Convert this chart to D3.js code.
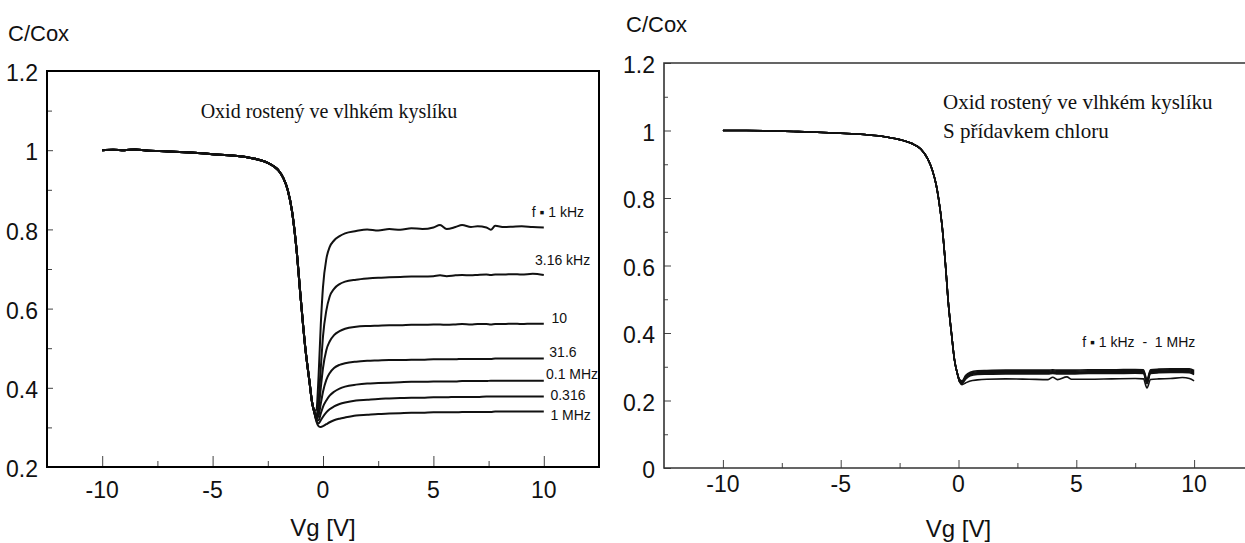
<!DOCTYPE html>
<html>
<head>
<meta charset="utf-8">
<script src="https://cdn.jsdelivr.net/npm/d3@7"></script>
<style>
  body { margin: 0; background: #fff; }
  svg { display: block; }
  .sans { font-family: "Liberation Sans", Arial, sans-serif; fill: #111; }
  .serif { font-family: "Liberation Serif", "Times New Roman", serif; fill: #111; }
</style>
</head>
<body>
<svg id="chart" width="1245" height="543"></svg>
<script>
// ---- left panel: wet oxide ----
const leftLabels = ["f \u25AA 1 kHz", "3.16 kHz", "10", "31.6", "0.1 MHz", "0.316", "1 MHz"];
const leftLabelVg = [9.45, 9.6, 10.35, 10.25, 10.1, 10.3, 10.3];
const leftLabelC = [0.844, 0.723, 0.576, 0.49, 0.435, 0.382, 0.331];

// shared descending branch
const leftDropVg = [-10, -9.5, -9, -8.5, -8, -7, -6, -5, -4, -3.5, -3, -2.5, -2.2, -2, -1.8, -1.6, -1.4, -1.2, -1.0, -0.8, -0.6];
const leftDropC  = [1.0, 1.001, 1.0, 1.002, 0.999, 0.997, 0.994, 0.99, 0.986, 0.983, 0.977, 0.968, 0.958, 0.948, 0.93, 0.90, 0.845, 0.75, 0.62, 0.50, 0.41];

// branches after the minimum, one row per frequency
const leftRiseVg = [-0.5, -0.4, -0.3, -0.2, -0.1, 0, 0.15, 0.3, 0.5, 0.75, 1, 1.5, 2, 2.5, 3, 3.5, 4, 4.5, 5, 5.3, 5.6, 6, 6.3, 6.7, 7, 7.4, 7.6, 7.8, 8.2, 8.6, 9, 9.5, 10];
const leftRiseC = [
  [0.365, 0.342, 0.345, 0.43, 0.56, 0.655, 0.725, 0.755, 0.772, 0.783, 0.79, 0.796, 0.80, 0.797, 0.801, 0.799, 0.803, 0.801, 0.805, 0.811, 0.801, 0.806, 0.811, 0.806, 0.808, 0.805, 0.799, 0.809, 0.806, 0.807, 0.808, 0.806, 0.805],
  [0.365, 0.34, 0.33, 0.37, 0.45, 0.53, 0.595, 0.63, 0.65, 0.662, 0.668, 0.673, 0.676, 0.678, 0.679, 0.68, 0.681, 0.681, 0.682, 0.684, 0.682, 0.684, 0.685, 0.684, 0.685, 0.686, 0.685, 0.686, 0.686, 0.687, 0.686, 0.688, 0.685],
  [0.365, 0.34, 0.325, 0.345, 0.40, 0.45, 0.495, 0.517, 0.533, 0.543, 0.549, 0.554, 0.556, 0.557, 0.558, 0.558, 0.559, 0.559, 0.56, 0.56, 0.559, 0.56, 0.561, 0.56, 0.561, 0.561, 0.56, 0.561, 0.561, 0.562, 0.561, 0.562, 0.562],
  [0.365, 0.34, 0.322, 0.33, 0.36, 0.39, 0.42, 0.437, 0.45, 0.458, 0.462, 0.466, 0.468, 0.469, 0.47, 0.47, 0.471, 0.471, 0.472, 0.472, 0.472, 0.472, 0.473, 0.473, 0.473, 0.473, 0.473, 0.474, 0.474, 0.474, 0.474, 0.474, 0.474],
  [0.365, 0.34, 0.32, 0.318, 0.335, 0.352, 0.368, 0.38, 0.39, 0.398, 0.403, 0.408, 0.411, 0.412, 0.413, 0.414, 0.415, 0.415, 0.416, 0.416, 0.416, 0.416, 0.417, 0.417, 0.417, 0.417, 0.418, 0.418, 0.418, 0.418, 0.418, 0.418, 0.418],
  [0.365, 0.34, 0.318, 0.31, 0.318, 0.327, 0.338, 0.346, 0.353, 0.359, 0.363, 0.368, 0.37, 0.372, 0.373, 0.374, 0.375, 0.375, 0.376, 0.376, 0.376, 0.377, 0.377, 0.377, 0.377, 0.378, 0.378, 0.378, 0.378, 0.378, 0.378, 0.378, 0.378],
  [0.365, 0.34, 0.315, 0.303, 0.301, 0.303, 0.308, 0.313, 0.318, 0.322, 0.325, 0.33, 0.332, 0.334, 0.335, 0.336, 0.337, 0.337, 0.338, 0.338, 0.338, 0.338, 0.339, 0.339, 0.339, 0.339, 0.339, 0.34, 0.34, 0.34, 0.34, 0.34, 0.34]
];

// ---- right panel: wet oxide with chlorine ----
const rightDropVg = [-10, -9, -8, -7, -6, -5, -4, -3, -2.5, -2, -1.6, -1.3, -1.1, -0.95, -0.85, -0.7, -0.55, -0.42, -0.3, -0.17, -0.05];
const rightDropC  = [1.0, 1.0, 0.999, 0.997, 0.995, 0.992, 0.988, 0.98, 0.973, 0.962, 0.945, 0.915, 0.88, 0.84, 0.80, 0.72, 0.60, 0.48, 0.40, 0.32, 0.28];

const rightRiseVg = [0.05, 0.15, 0.3, 0.5, 0.8, 1.2, 2, 3, 3.8, 4.0, 4.2, 4.6, 4.8, 5.5, 6.5, 7.5, 7.85, 8.0, 8.15, 8.5, 9, 9.5, 9.8, 10];
const rightRiseC = [
  [0.262, 0.258, 0.274, 0.284, 0.288, 0.289, 0.29, 0.29, 0.29, 0.291, 0.29, 0.29, 0.29, 0.291, 0.291, 0.292, 0.291, 0.262, 0.291, 0.293, 0.294, 0.294, 0.294, 0.289],
  [0.26, 0.256, 0.271, 0.281, 0.285, 0.286, 0.287, 0.287, 0.287, 0.288, 0.287, 0.287, 0.287, 0.288, 0.288, 0.289, 0.288, 0.258, 0.288, 0.29, 0.291, 0.291, 0.291, 0.286],
  [0.258, 0.254, 0.268, 0.278, 0.282, 0.283, 0.284, 0.284, 0.284, 0.285, 0.284, 0.284, 0.284, 0.285, 0.285, 0.286, 0.285, 0.255, 0.285, 0.287, 0.288, 0.288, 0.288, 0.283],
  [0.256, 0.252, 0.266, 0.276, 0.28, 0.281, 0.282, 0.282, 0.282, 0.283, 0.282, 0.282, 0.282, 0.283, 0.283, 0.284, 0.283, 0.252, 0.283, 0.285, 0.286, 0.286, 0.285, 0.28],
  [0.255, 0.25, 0.263, 0.273, 0.277, 0.278, 0.279, 0.279, 0.279, 0.28, 0.279, 0.279, 0.279, 0.28, 0.28, 0.281, 0.28, 0.25, 0.28, 0.282, 0.283, 0.283, 0.282, 0.277],
  [0.255, 0.247, 0.252, 0.258, 0.261, 0.263, 0.264, 0.263, 0.262, 0.269, 0.262, 0.27, 0.263, 0.263, 0.264, 0.265, 0.264, 0.237, 0.262, 0.264, 0.265, 0.268, 0.265, 0.258]
];
const rightLabel = "f \u25AA 1 kHz  -  1 MHz";
const rightLabelVg = 5.25, rightLabelC = 0.373;

const xTicksMajor = [-10, -5, 0, 5, 10];
const xTicksMinor = [-7.5, -2.5, 2.5, 7.5];

function getConfigLeft() {
  return {
    left: 47, right: 599, top: 71, bottom: 467,
    xDomain: [-12.5, 12.5], yDomain: [0.2, 1.2],
    yMajor: [0.2, 0.4, 0.6, 0.8, 1, 1.2],
    yMinor: [0.3, 0.5, 0.7, 0.9, 1.1],
    frameWidth: 2, frameColor: "#000", lineWidth: 2,
    xMajorLen: 11, xMinorLen: 6, yMajorLen: 6, yMinorLen: 5,
    yLabel: { x: 8, y: 41 }, xTickY: 498, xTitleY: 536,
    showRight: true
  };
}

function getConfigRight() {
  return {
    left: 664, right: 1253, top: 63, bottom: 468,
    xDomain: [-12.5, 12.5], yDomain: [0, 1.2],
    yMajor: [0, 0.2, 0.4, 0.6, 0.8, 1, 1.2],
    yMinor: [0.1, 0.3, 0.5, 0.7, 0.9, 1.1],
    frameWidth: 1.6, frameColor: "#333", lineWidth: 1.6,
    xMajorLen: 8, xMinorLen: 5, yMajorLen: 7, yMinorLen: 4,
    yLabel: { x: 626, y: 32 }, xTickY: 492, xTitleY: 537,
    showRight: false
  };
}

function drawFrame(svg, cfg) {
  let x = d3.scaleLinear().domain(cfg.xDomain).range([cfg.left, cfg.right]);
  let y = d3.scaleLinear().domain(cfg.yDomain).range([cfg.bottom, cfg.top]);
  let g = svg.append("g");

  // minor and major ticks, pointing inward
  let yMinorAxis = d3.axisLeft(y).tickValues(cfg.yMinor).tickSize(-cfg.yMinorLen).tickFormat("");
  let yMajorAxis = d3.axisLeft(y).tickValues(cfg.yMajor).tickSize(-cfg.yMajorLen).tickPadding(9)
    .tickFormat(d => d3.format("")(+d.toFixed(1)));
  let xMinorAxis = d3.axisBottom(x).tickValues(xTicksMinor).tickSize(-cfg.xMinorLen).tickFormat("");
  let xMajorAxis = d3.axisBottom(x).tickValues(xTicksMajor).tickSize(-cfg.xMajorLen).tickFormat("");

  [[yMinorAxis, "translate(" + cfg.left + ",0)"], [yMajorAxis, "translate(" + cfg.left + ",0)"],
   [xMinorAxis, "translate(0," + cfg.bottom + ")"], [xMajorAxis, "translate(0," + cfg.bottom + ")"]]
    .forEach(([ax, tr]) => {
      let a = g.append("g").attr("transform", tr).call(ax);
      a.select(".domain").remove();
      a.selectAll(".tick line").attr("stroke", "#444").attr("stroke-width", 1);
      a.selectAll("text").attr("class", "sans").style("font-size", "23px")
        .attr("font-family", null).attr("dy", "0.42em");
    });

  // x tick labels
  g.selectAll(".xlab").data(xTicksMajor).enter().append("text")
    .attr("class", "sans").attr("text-anchor", "middle")
    .attr("x", d => x(d)).attr("y", cfg.xTickY)
    .style("font-size", "23px").text(d => d);

  // frame
  let frame = d3.path();
  if (cfg.showRight) {
    frame.rect(cfg.left, cfg.top, cfg.right - cfg.left, cfg.bottom - cfg.top);
  } else {
    frame.moveTo(cfg.right + 10, cfg.top); frame.lineTo(cfg.left, cfg.top);
    frame.lineTo(cfg.left, cfg.bottom); frame.lineTo(cfg.right + 10, cfg.bottom);
  }
  g.append("path").attr("d", frame.toString()).attr("fill", "none")
    .attr("stroke", cfg.frameColor).attr("stroke-width", cfg.frameWidth);

  // axis titles
  g.append("text").attr("class", "sans").attr("x", cfg.yLabel.x).attr("y", cfg.yLabel.y)
    .style("font-size", "22px").text("C/Cox");
  g.append("text").attr("class", "sans").attr("text-anchor", "middle")
    .attr("x", x(0)).attr("y", cfg.xTitleY).style("font-size", "24px").text("Vg [V]");

  return { x, y, g };
}

function drawCurves(g, scales, dropVg, dropC, riseVg, riseC, width) {
  let { x, y } = scales;
  let line = d3.line().x(d => x(d[0])).y(d => y(d[1])).curve(d3.curveMonotoneX);
  let drop = dropVg.map((v, i) => [v, dropC[i]]);
  let series = riseC.map(row => drop.concat(riseVg.map((v, i) => [v, row[i]])));
  g.selectAll(".curve").data(series).enter().append("path")
    .attr("class", "curve")
    .attr("d", line)
    .attr("fill", "none")
    .attr("stroke", "#111")
    .attr("stroke-width", width)
    .attr("stroke-linejoin", "round");
}

let svg = d3.select("#chart");

// left panel
let cfgL = getConfigLeft();
let left = drawFrame(svg, cfgL);
drawCurves(left.g, left, leftDropVg, leftDropC, leftRiseVg, leftRiseC, cfgL.lineWidth);
left.g.append("text").attr("class", "serif").attr("text-anchor", "middle")
  .attr("x", 329).attr("y", 118).style("font-size", "20px")
  .text("Oxid rostený ve vlhkém kyslíku");
left.g.selectAll(".flab").data(leftLabels).enter().append("text")
  .attr("class", "sans")
  .attr("x", (d, i) => left.x(leftLabelVg[i]))
  .attr("y", (d, i) => left.y(leftLabelC[i]))
  .attr("dy", "0.35em")
  .style("font-size", "14px")
  .text(d => d);

// right panel
let cfgR = getConfigRight();
let right = drawFrame(svg, cfgR);
drawCurves(right.g, right, rightDropVg, rightDropC, rightRiseVg, rightRiseC, cfgR.lineWidth);
right.g.append("text").attr("class", "serif").attr("x", 943).attr("y", 109)
  .style("font-size", "21px").text("Oxid rostený ve vlhkém kyslíku");
right.g.append("text").attr("class", "serif").attr("x", 943).attr("y", 138)
  .style("font-size", "21px").text("S přídavkem chloru");
right.g.append("text").attr("class", "sans")
  .attr("x", right.x(rightLabelVg)).attr("y", right.y(rightLabelC)).attr("dy", "0.35em")
  .style("font-size", "14px").attr("xml:space", "preserve")
  .text(rightLabel);
</script>
</body>
</html>
